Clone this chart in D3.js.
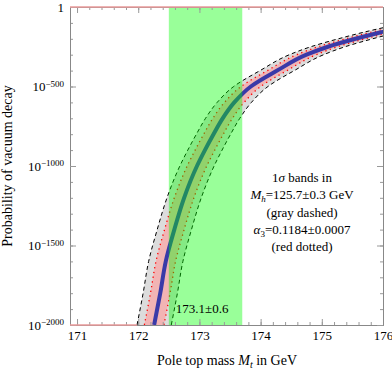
<!DOCTYPE html>
<html>
<head>
	<title>Probability of vacuum decay</title>
	<style>
		html, body { margin: 0; background: white; }
		svg { display: block; font-family: "Liberation Serif", "DejaVu Serif", serif; }
	</style>
	<script src="https://cdn.jsdelivr.net/npm/d3@7/dist/d3.min.js"></script>
</head>
<body>
	<svg id="svg" width="392" height="370"></svg>
	<script>
		// log10 of the decay probability, and the top mass where each curve reaches it
		const decayExp  = [-2000, -1800, -1600, -1400, -1200, -1000, -900, -800, -700, -600, -500, -400, -300, -250, -200, -160, -120];
		const mtCentral = [172.26, 172.36, 172.45, 172.59, 172.75, 172.96, 173.09, 173.23, 173.38, 173.57, 173.84, 174.27, 174.75, 175.10, 175.55, 175.95, 176.40];
		// gray dashed band (Mh = 125.7 +- 0.3 GeV)
		const mtGrayLo  = [171.98, 172.08, 172.17, 172.31, 172.47, 172.68, 172.81, 172.95, 173.10, 173.29, 173.56, 173.99, 174.47, 174.82, 175.27, 175.67, 176.12];
		const mtGrayHi  = [172.54, 172.64, 172.73, 172.87, 173.03, 173.24, 173.37, 173.51, 173.66, 173.85, 174.12, 174.55, 175.03, 175.38, 175.83, 176.23, 176.68];
		// red dotted band (alpha3 = 0.1184 +- 0.0007)
		const mtRedLo   = [172.10, 172.20, 172.29, 172.43, 172.59, 172.80, 172.93, 173.07, 173.22, 173.41, 173.68, 174.11, 174.59, 174.94, 175.39, 175.79, 176.24];
		const mtRedHi   = [172.42, 172.52, 172.61, 172.75, 172.91, 173.12, 173.25, 173.39, 173.54, 173.73, 174.00, 174.43, 174.91, 175.26, 175.71, 176.11, 176.56];

		const mtMeasured = 173.1, mtError = 0.6;

		const xTicks = [171, 172, 173, 174, 175, 176];
		const yTicks = [0, -500, -1000, -1500, -2000];

		const svg = d3.select('#svg'),
			padL = 70, padR = 383, padT = 7, padB = 325;

		const x = d3.scaleLinear().domain([170.885, 176]).range([padL, padR]);
		const y = d3.scaleLinear().domain([-2000, 0]).range([padB, padT]);

		svg.append('defs').append('clipPath').attr('id', 'plotArea')
			.append('rect')
			.attr('x', padL).attr('y', padT)
			.attr('width', padR - padL).attr('height', padB - padT);

		const plot = svg.append('g').attr('clip-path', 'url(#plotArea)');

		function band(lo, hi) {
			return d3.area()
				.curve(d3.curveMonotoneY)
				.y((d, i) => y(decayExp[i]))
				.x0((d, i) => x(lo[i]))
				.x1((d, i) => x(hi[i]))(decayExp);
		}
		function curve(arr) {
			return d3.line()
				.curve(d3.curveMonotoneY)
				.x((d, i) => x(arr[i]))
				.y((d, i) => y(decayExp[i]))(decayExp);
		}

		plot.append('path').attr('d', band(mtGrayLo, mtGrayHi)).attr('fill', '#dcdcdc');
		plot.append('path').attr('d', band(mtRedLo, mtRedHi)).attr('fill', '#f2b4b4');

		[mtGrayLo, mtGrayHi].forEach(a => plot.append('path')
			.attr('d', curve(a)).attr('fill', 'none')
			.attr('stroke', 'black').attr('stroke-width', 1)
			.attr('stroke-dasharray', '4,3'));

		[mtRedLo, mtRedHi].forEach(a => plot.append('path')
			.attr('d', curve(a)).attr('fill', 'none')
			.attr('stroke', '#ff0000').attr('stroke-width', 1.3)
			.attr('stroke-dasharray', '1.3,3.5'));

		plot.append('path').attr('d', curve(mtCentral))
			.attr('fill', 'none').attr('stroke', '#3a3aa8').attr('stroke-width', 4);

		// measured top mass band
		plot.append('rect')
			.attr('x', x(mtMeasured - mtError))
			.attr('y', padT)
			.attr('width', x(mtMeasured + mtError) - x(mtMeasured - mtError))
			.attr('height', padB - padT)
			.attr('fill', 'rgb(0,255,0)').attr('fill-opacity', 0.4);

		// axes, ticks pointing inward on all four sides
		function styleAxis(g) {
			g.attr('font-family', null).attr('font-size', 13);
			g.selectAll('path.domain').attr('stroke', '#888').attr('stroke-width', 1);
			g.selectAll('.tick line').attr('stroke', '#999');
			g.selectAll('text').attr('fill', 'black');
		}
		const minorX = d3.range(171, 176.01, 0.2), minorY = d3.range(-2000, 1, 100);

		svg.append('g').attr('transform', `translate(0,${padB})`)
			.call(d3.axisBottom(x).tickValues(minorX).tickSize(-3).tickSizeOuter(0).tickFormat(''))
			.call(styleAxis);
		svg.append('g').attr('transform', `translate(0,${padB})`)
			.call(d3.axisBottom(x).tickValues(xTicks).tickSize(-6).tickSizeOuter(0).tickPadding(6).tickFormat(d3.format('d')))
			.call(styleAxis);
		svg.append('g').attr('transform', `translate(0,${padT})`)
			.call(d3.axisTop(x).tickValues(minorX).tickSize(-3).tickSizeOuter(0).tickFormat(''))
			.call(styleAxis);
		svg.append('g').attr('transform', `translate(0,${padT})`)
			.call(d3.axisTop(x).tickValues(xTicks).tickSize(-6).tickSizeOuter(0).tickFormat(''))
			.call(styleAxis);

		svg.append('g').attr('transform', `translate(${padL},0)`)
			.call(d3.axisLeft(y).tickValues(minorY).tickSize(-3).tickSizeOuter(0).tickFormat(''))
			.call(styleAxis);
		const yAxis = svg.append('g').attr('transform', `translate(${padL},0)`)
			.call(d3.axisLeft(y).tickValues(yTicks).tickSize(-6).tickSizeOuter(0).tickPadding(6))
			.call(styleAxis);
		yAxis.selectAll('.tick text').each(function (d) {
			const t = d3.select(this).text(null);
			if (d === 0) { t.text('1'); return; }
			t.append('tspan').text('10');
			t.append('tspan').attr('dy', '-0.5em').attr('font-size', 9).text('\u2212' + Math.abs(d));
		});
		svg.append('g').attr('transform', `translate(${padR},0)`)
			.call(d3.axisRight(y).tickValues(minorY).tickSize(-3).tickSizeOuter(0).tickFormat(''))
			.call(styleAxis);
		svg.append('g').attr('transform', `translate(${padR},0)`)
			.call(d3.axisRight(y).tickValues(yTicks).tickSize(-6).tickSizeOuter(0).tickFormat(''))
			.call(styleAxis);

		// probability capped at 1 on top and at the floor on the left
		svg.append('line')
			.attr('x1', padL).attr('x2', padR).attr('y1', y(0)).attr('y2', y(0))
			.attr('stroke', '#e89a9a').attr('stroke-width', 1.4);
		svg.append('line')
			.attr('x1', padL).attr('x2', x(mtGrayLo[0])).attr('y1', y(-2000)).attr('y2', y(-2000))
			.attr('stroke', '#e89a9a').attr('stroke-width', 1.4);

		// labels
		svg.append('text')
			.attr('x', x(mtMeasured - mtError) + 7).attr('y', 313)
			.attr('font-size', 13)
			.text(`${mtMeasured}\u00b1${mtError}`);

		const note = svg.append('text').attr('font-size', 13).attr('text-anchor', 'middle');
		const nx = 302;
		let l = note.append('tspan').attr('x', nx).attr('y', 182);
		l.append('tspan').text('1');
		l.append('tspan').attr('font-style', 'italic').text('\u03c3');
		l.append('tspan').text(' bands in');
		l = note.append('tspan').attr('x', nx).attr('y', 199);
		l.append('tspan').attr('font-style', 'italic').text('M');
		l.append('tspan').attr('font-style', 'italic').attr('font-size', 9).attr('dy', 3).text('h');
		l.append('tspan').attr('dy', -3).text('=125.7\u00b10.3 GeV');
		note.append('tspan').attr('x', nx).attr('y', 216.5).text('(gray dashed)');
		l = note.append('tspan').attr('x', nx).attr('y', 234);
		l.append('tspan').attr('font-style', 'italic').text('\u03b1');
		l.append('tspan').attr('font-size', 9).attr('dy', 3).text('3');
		l.append('tspan').attr('dy', -3).text('=0.1184\u00b10.0007');
		note.append('tspan').attr('x', nx).attr('y', 251).text('(red dotted)');

		svg.append('text')
			.attr('transform', `translate(12,${(padT + padB) / 2}) rotate(-90)`)
			.attr('text-anchor', 'middle').attr('font-size', 14)
			.text('Probability of vacuum decay');

		const xt = svg.append('text')
			.attr('x', 227).attr('y', 365)
			.attr('text-anchor', 'middle').attr('font-size', 14);
		xt.append('tspan').text('Pole top mass ');
		xt.append('tspan').attr('font-style', 'italic').text('M');
		xt.append('tspan').attr('font-style', 'italic').attr('font-size', 10).attr('dy', 3).text('t');
		xt.append('tspan').attr('dy', -3).text(' in GeV');
	</script>
</body>
</html>
